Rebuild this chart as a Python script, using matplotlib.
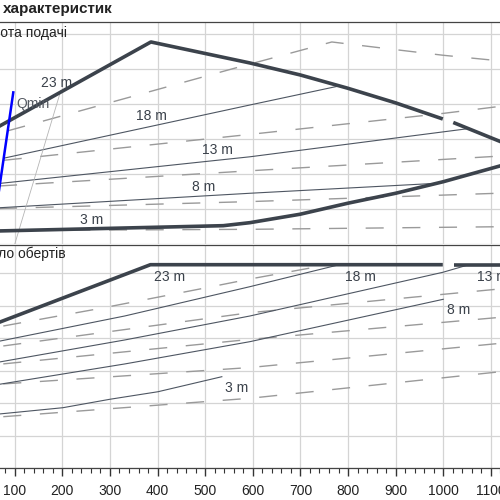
import numpy as np
import matplotlib.pyplot as plt
from matplotlib.ticker import MultipleLocator

plt.rcParams['font.family'] = ['Liberation Sans', 'DejaVu Sans']

# Upper panel: flow Q vs head H
top_max_q = [50, 386, 594, 699, 799, 900, 999]
top_max_h = [16.2, 28.9, 25.9, 24.2, 22.3, 20.2, 17.9]
top_max2_q = [1021, 1119, 1165]
top_max2_h = [17.4, 14.7, 13.4]
top_min_q = [50, 538, 594, 699, 799, 900, 1000, 1119, 1165]
top_min_h = [1.88, 2.66, 3.09, 4.29, 5.86, 7.29, 8.94, 11.19, 12.1]

top_solid = {
    '18 m': ([77, 594, 780], [12.3, 19.9, 22.6]),
    '13 m': ([69, 594, 1050], [8.7, 12.5, 16.5]),
    '8 m': ([60, 594, 986], [5.19, 7.29, 8.71]),
}
top_dashed = [
    ([85, 559, 766, 900, 1000, 1119, 1165], [16.2, 25.1, 28.9, 27.8, 27.0, 26.2, 25.9]),
    ([77, 594, 1000, 1119, 1165], [12.0, 15.7, 18.7, 19.7, 20.0]),
    ([60, 594, 1119, 1165], [8.3, 10.5, 12.6, 12.8]),
    ([60, 594, 1119, 1165], [5.1, 6.1, 7.3, 7.45]),
    ([60, 594, 1119, 1165], [1.97, 2.14, 2.51, 2.6]),
]
qmin_q = [97, 58]
qmin_h = [21.7, 3.5]
aux_q = [100, 197]
aux_h = [0.0, 22.0]

top_labels = ['23 m', '18 m', '13 m', '8 m', '3 m']
top_label_q = [188, 388, 526, 496, 262]
top_label_h = [23.0, 18.3, 13.5, 8.2, 3.5]

# Lower panel: flow Q vs speed n
bot_max_q = [50, 385, 999]
bot_max_n = [2197, 3132, 3132]
bot_max2_q = [1023, 1165]
bot_max2_n = [3132, 3132]

bot_solid = [
    ([60, 331, 594, 775], [1944, 2343, 2794, 3120]),
    ([60, 331, 594, 999, 1052], [1625, 1974, 2343, 3015, 3128]),
    ([60, 331, 594, 1000], [1283, 1605, 1948, 2600]),
    ([60, 201, 300, 401, 535], [830, 932, 1062, 1178, 1409]),
]
bot_dashed = [
    ([76, 280, 490, 600, 735], [2189, 2460, 2760, 2920, 3100]),
    ([76, 594, 1119, 1165], [1882, 2394, 2759, 2785]),
    ([76, 594, 1119, 1165], [1606, 1983, 2322, 2350]),
    ([76, 594, 1119, 1165], [1298, 1550, 1922, 1950]),
    ([76, 594, 1119, 1165], [794, 1077, 1485, 1515]),
]
bot_labels = ['23 m', '18 m', '13 m', '8 m', '3 m']
bot_label_q = [425, 827, 1070, 1032, 566]
bot_label_n = [2948, 2948, 2948, 2428, 1235]
bot_label_ha = ['center', 'center', 'left', 'center', 'center']

THICK = '#3c434c'
THIN = '#4e5662'
DASH = '#9a9a9a'
GRID = '#d4d4d4'
TXT = '#3a414a'

fig = plt.figure(figsize=(5, 5), dpi=100)
ax_top = fig.add_axes([-0.0658, 0.5114, 1.1428, 0.444])
ax_bot = fig.add_axes([-0.0658, 0.0634, 1.1428, 0.4466])

for ax in (ax_top, ax_bot):
    ax.set_xlim(0, 1200)
    ax.xaxis.set_major_locator(MultipleLocator(100))
    ax.xaxis.set_minor_locator(MultipleLocator(20))
    ax.grid(True, which='major', color=GRID, lw=0.9)
    ax.set_axisbelow(True)
    for s in ax.spines.values():
        s.set_color('#444444')
        s.set_linewidth(0.9)

ax_top.set_ylim(0, 31.71)
ax_top.yaxis.set_major_locator(MultipleLocator(5))
ax_top.tick_params(axis='both', which='both', length=0, labelbottom=False, labelleft=False)
ax_top.spines['bottom'].set_visible(False)

ax_bot.set_ylim(0, 3435)
ax_bot.yaxis.set_major_locator(MultipleLocator(500))
ax_bot.tick_params(axis='y', which='both', length=0, labelleft=False)
ax_bot.tick_params(axis='x', which='major', length=6, width=1.0, color='#333333',
                   labelsize=10, labelcolor='#222222', pad=5)
ax_bot.tick_params(axis='x', which='minor', length=3.5, width=0.8, color='#333333')

dash_style = dict(color=DASH, lw=1.0, dashes=(13, 13.4))

# upper panel
for q, h in top_dashed:
    ax_top.plot(q, h, **dash_style)
for q, h in top_solid.values():
    ax_top.plot(q, h, color=THIN, lw=0.8)
ax_top.plot(aux_q, aux_h, color='#b5b5b5', lw=0.6)
ax_top.plot(top_max_q, top_max_h, color=THICK, lw=2.6, solid_capstyle='butt')
ax_top.plot(top_max2_q, top_max2_h, color=THICK, lw=2.6, solid_capstyle='butt')
ax_top.plot(top_min_q, top_min_h, color=THICK, lw=2.6)
ax_top.plot(qmin_q, qmin_h, color='#0000ff', lw=1.8)
ax_top.text(138, 20.0, 'Qmin', ha='center', va='center', fontsize=10, color='#555a62')
for lab, q, h in zip(top_labels, top_label_q, top_label_h):
    ax_top.text(q, h, lab, ha='center', va='center', fontsize=10, color=TXT)

# lower panel
for q, n in bot_dashed:
    ax_bot.plot(q, n, **dash_style)
for q, n in bot_solid:
    ax_bot.plot(q, n, color=THIN, lw=0.8)
ax_bot.plot(bot_max_q, bot_max_n, color=THICK, lw=2.6, solid_capstyle='butt')
ax_bot.plot(bot_max2_q, bot_max2_n, color=THICK, lw=2.6, solid_capstyle='butt')
for lab, q, n, ha in zip(bot_labels, bot_label_q, bot_label_n, bot_label_ha):
    ax_bot.text(q, n, lab, ha=ha, va='center', fontsize=10, color=TXT)

fig.text(3 / 500, 1 - 9 / 500, 'характеристик', ha='left', va='center',
         fontsize=11, fontweight='bold', color='#222222')
fig.text(67 / 500, 1 - 32.5 / 500, 'Висота подачі', ha='right', va='center',
         fontsize=10, color='#222222')
fig.text(66 / 500, 1 - 254 / 500, 'Число обертів', ha='right', va='center',
         fontsize=10, color='#222222')

fig.savefig('out.png', dpi=100)
